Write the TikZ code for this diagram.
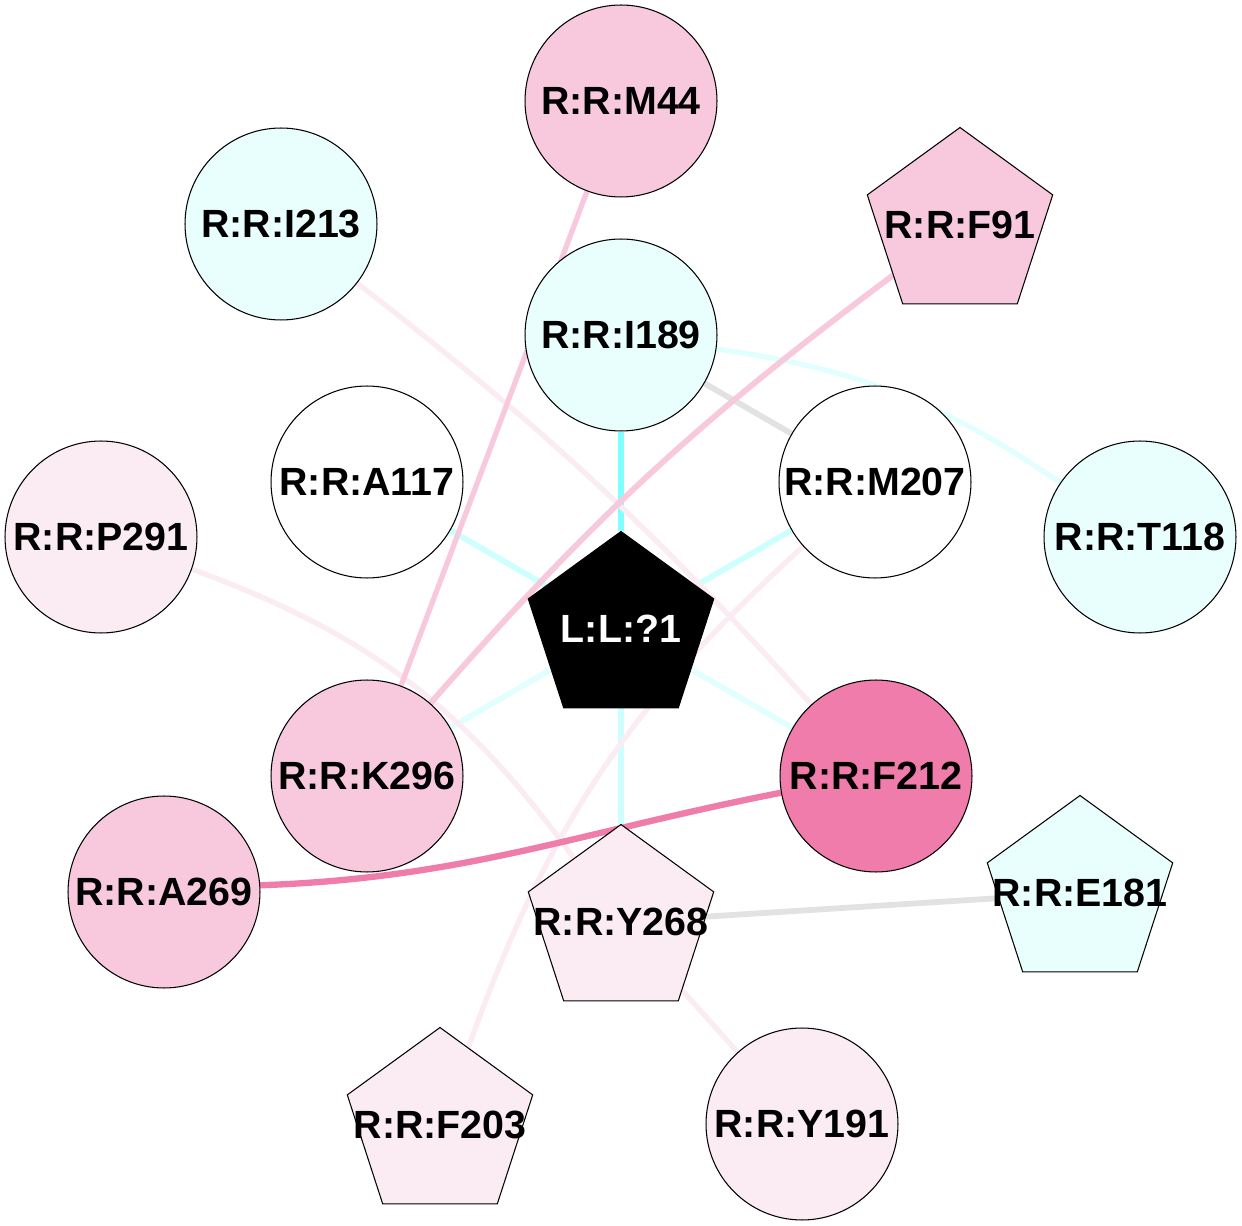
\documentclass[tikz,border=0pt]{standalone}
\usepackage{fontspec}
\setmainfont{Liberation Sans}
\usetikzlibrary{shapes.geometric,backgrounds}
\definecolor{cpink}{RGB}{248,200,221}
\definecolor{cpinklt}{RGB}{251,235,242}
\definecolor{cpinkdk}{RGB}{239,124,171}
\definecolor{ccyanlt}{RGB}{232,255,253}
\definecolor{ecyanst}{RGB}{128,255,255}
\definecolor{ecyanmd}{RGB}{205,255,255}
\definecolor{ecyanlt}{RGB}{226,255,255}
\definecolor{egray}{RGB}{226,226,226}
\newcommand{\lbl}[1]{\makebox[0pt]{#1}}
\begin{document}
\begin{tikzpicture}[x=0.02cm,y=0.02cm,
  every node/.style={inner sep=0pt,font=\fontsize{22.4pt}{27pt}\selectfont\bfseries},
  res/.style={circle,draw=black,line width=0.6pt,minimum size=3.84cm},
  pent/.style={regular polygon,regular polygon sides=5,draw=black,line width=0.6pt,minimum size=3.9cm},
  cy/.style={line width=3.3pt},
  pk/.style={line width=3pt}]
\useasboundingbox (0,0) rectangle (1242,-1226);
\node [res,fill=cpink] (M44) at (621,-101) {R:R:M44};
\node [res,fill=ccyanlt] (I213) at (281,-224) {R:R:I213};
\node [pent,fill=cpink] (F91) at (960,-225) {\lbl{R:R:F91}};
\node [res,fill=ccyanlt] (I189) at (621,-335) {R:R:I189};
\node [res,fill=white] (A117) at (367,-482) {R:R:A117};
\node [res,fill=white] (M207) at (875,-482) {R:R:M207};
\node [res,fill=cpinklt] (P291) at (101,-537) {R:R:P291};
\node [res,fill=ccyanlt] (T118) at (1140,-537) {R:R:T118};
\node [pent,fill=black,text=white] (LIG) at (621,-629) {\lbl{L:L:?1}};
\node [res,fill=cpink] (K296) at (367,-776) {R:R:K296};
\node [res,fill=cpinkdk] (F212) at (876,-776) {R:R:F212};
\node [res,fill=cpink] (A269) at (164,-892) {R:R:A269};
\node [pent,fill=cpinklt] (Y268) at (621,-922) {\lbl{R:R:Y268}};
\node [pent,fill=ccyanlt] (E181) at (1080,-893) {\lbl{R:R:E181}};
\node [pent,fill=cpinklt] (F203) at (440,-1125) {\lbl{R:R:F203}};
\node [res,fill=cpinklt] (Y191) at (802,-1124) {R:R:Y191};
\begin{scope}[on background layer]
\draw [cy,ecyanst] (I189) -- (LIG);
\draw [cy,ecyanmd] (A117) -- (LIG);
\draw [cy,ecyanmd] (M207) -- (LIG);
\draw [cy,ecyanmd] (LIG) -- (Y268);
\draw [cy,ecyanlt] (K296) -- (LIG);
\draw [cy,ecyanlt] (F212) -- (LIG);
\draw [pk,ecyanlt] (I189) to[bend left=13] (T118);
\draw [cy,egray] (I189) -- (M207);
\draw [cy,egray] (Y268) -- (E181);
\draw [pk,cpinklt] (I213) to[bend left=5] (F212);
\draw [pk,cpinklt] (P291) to[bend left=17] (Y268);
\draw [pk,cpinklt] (M207) to[bend right=14] (F203);
\draw [pk,cpinklt] (Y268) -- (Y191);
\draw [pk,cpink] (M44) -- (K296);
\draw [cy,cpink] (F91) to[bend right=6] (K296);
\draw [line width=3.6pt,cpinkdk] (F212.190) to[out=191,in=2] (A269.4);
\end{scope}
\end{tikzpicture}
\end{document}
